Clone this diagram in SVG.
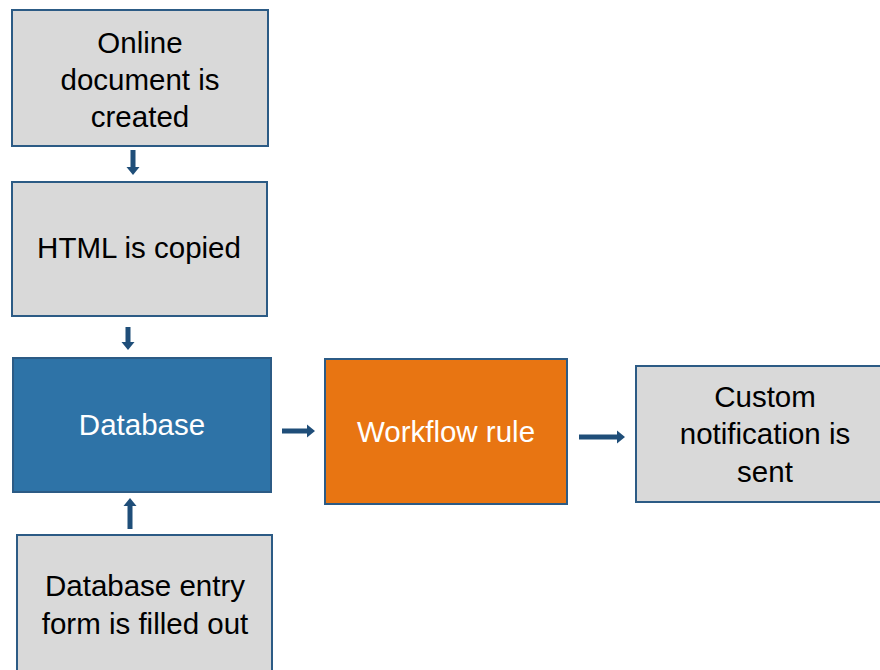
<svg xmlns="http://www.w3.org/2000/svg" width="880" height="670" viewBox="0 0 880 670">
<style>
.box{stroke:#2c5b85;stroke-width:2}
.gray{fill:#d9d9d9}
.blue{fill:#2e73a7}
.orange{fill:#e87512}
text{font-family:"Liberation Sans",Arial,sans-serif;font-size:29.5px;text-anchor:middle}
.dark{fill:#000}
.light{fill:#fff}
.arr{fill:#1f4e79}
</style>
<rect width="880" height="670" fill="#fff"/>
<g id="connectors">
<path class="arr" d="M130.5,150 h5 v17 h4 l-6.5,8 l-6.5,-8 h4 z"/>
<path class="arr" d="M125.5,327 h5 v15 h4 l-6.5,8 l-6.5,-8 h4 z"/>
<path class="arr" d="M127.5,529 h5 v-23 h4 l-6.5,-8 l-6.5,8 h4 z"/>
<path class="arr" d="M282,428.5 v5 h25 v4 l8,-6.5 l-8,-6.5 v4 z"/>
<path class="arr" d="M579,434.5 v5 h38 v4 l8,-6.5 l-8,-6.5 v4 z"/>
</g>
<g id="node-online">
<rect class="box gray" x="12" y="10" width="256" height="136"/>
<text class="dark" x="140" y="53">Online</text>
<text class="dark" x="140" y="90">document is</text>
<text class="dark" x="140" y="127">created</text>
</g>
<g id="node-html">
<rect class="box gray" x="12" y="182" width="255" height="134"/>
<text class="dark" x="139" y="258">HTML is copied</text>
</g>
<g id="node-database">
<rect class="box blue" x="13" y="358" width="258" height="134"/>
<text class="light" x="142" y="435">Database</text>
</g>
<g id="node-workflow">
<rect class="box orange" x="325" y="359" width="242" height="145"/>
<text class="light" x="446" y="442">Workflow rule</text>
</g>
<g id="node-custom">
<rect class="box gray" x="636" y="366" width="260" height="136"/>
<text class="dark" x="765" y="407">Custom</text>
<text class="dark" x="765" y="444">notification is</text>
<text class="dark" x="765" y="482">sent</text>
</g>
<g id="node-entry">
<rect class="box gray" x="17" y="535" width="255" height="145"/>
<text class="dark" x="145" y="596">Database entry</text>
<text class="dark" x="145" y="634">form is filled out</text>
</g>
</svg>
